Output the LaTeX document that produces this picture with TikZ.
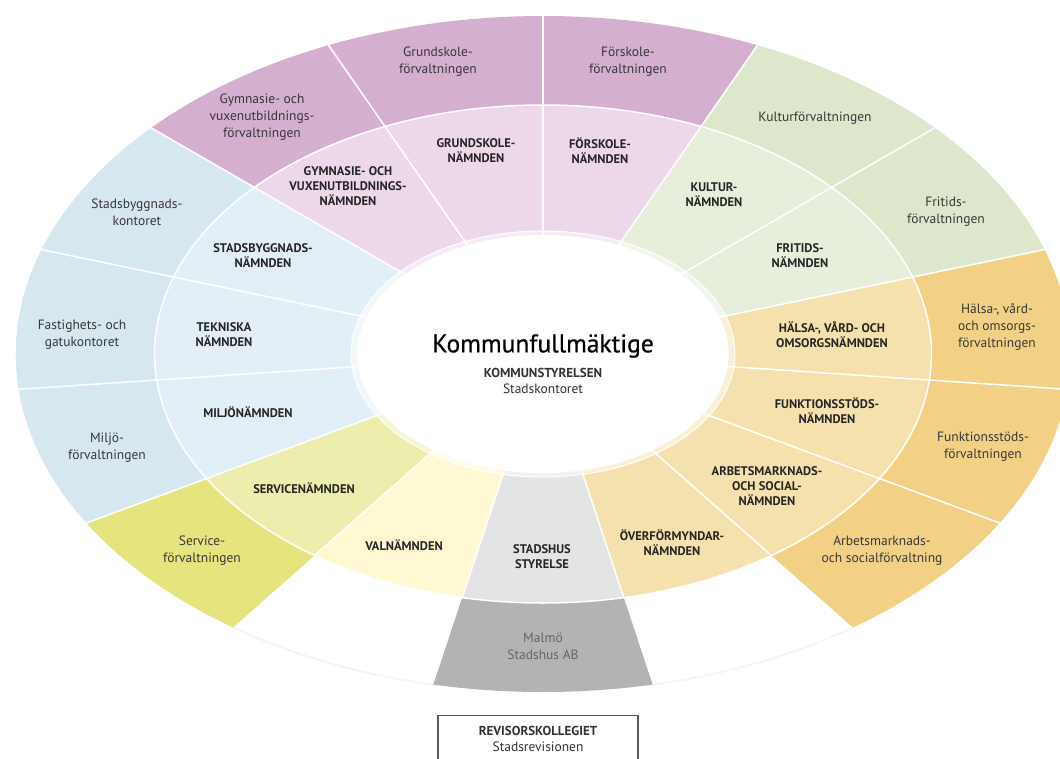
\documentclass[tikz,border=0pt]{standalone}
\usepackage{fontspec}
\setmainfont{PT Sans}
\usetikzlibrary{positioning}

\definecolor{lilaF}{HTML}{D5AFD0}
\definecolor{lilaN}{HTML}{EDD8EA}
\definecolor{gronF}{HTML}{DDE7CB}
\definecolor{gronN}{HTML}{E7EEDB}
\definecolor{orangeF}{HTML}{F2D186}
\definecolor{orangeN}{HTML}{F5E1AE}
\definecolor{blaF}{HTML}{D6E7F0}
\definecolor{blaN}{HTML}{E3EFF6}
\definecolor{gulF}{HTML}{E6E47F}
\definecolor{gulN}{HTML}{EDEDAD}
\definecolor{valN}{HTML}{FFF8D3}
\definecolor{graN}{HTML}{E4E4E4}
\definecolor{graF}{HTML}{B3B3B3}

\tikzset{
    nmd/.style={font=\bfseries\fontsize{12.5}{15}\selectfont, align=center, text=black!85}, % the nämnder in the middle ring
    forv/.style={font=\fontsize{13.5}{17}\selectfont, align=center, text=black!78}, % the förvaltningar in the outer ring
    sep/.style={white, line width=1.5pt}, % white lines between the fields
}

\begin{document}
\begin{tikzpicture}[x=1pt, y=-1pt]
\path[use as bounding box] (0,0) rectangle (1060,758);
\clip (0,0) rectangle (1060,758);

% the wheel: angles are taken in the ellipse, 15 fields of 24 degrees
\begin{scope}[shift={(543,354)}, xscale=1.56, yscale=-1]
    \draw[black!4, line width=2pt] (234:338) arc[start angle=234, end angle=258, radius=338];
    \draw[black!4, line width=2pt] (282:338) arc[start angle=282, end angle=306, radius=338];
    \foreach \a/\c in {66/lilaN, 90/lilaN, 114/lilaN, 138/blaN, 162/blaN, 186/blaN, 210/gulN, 234/valN,
                       258/graN, 282/orangeN, 306/orangeN, 330/orangeN, 354/orangeN, 18/gronN, 42/gronN}
        \fill[\c] (0,0) -- (\a:249) arc[start angle=\a, delta angle=24, radius=249] -- cycle;
    \foreach \a/\c in {66/lilaF, 90/lilaF, 114/lilaF, 138/blaF, 162/blaF, 186/blaF, 210/gulF,
                       258/graF, 306/orangeF, 330/orangeF, 354/orangeF, 18/gronF, 42/gronF}
        \fill[\c] (\a:249) -- (\a:338) arc[start angle=\a, delta angle=24, radius=338]
            -- (\a+24:249) arc[start angle=\a+24, delta angle=-24, radius=249] -- cycle;
    \foreach \a in {18,42,...,354}
        \draw[sep] (\a:110) -- (\a:249);
    \foreach \a in {330,354,18,42,66,90,114,138,162,186,210}
        \draw[sep] (\a:249) -- (\a:338);
    \draw[sep] (0,0) circle[radius=249];
    \fill[white, opacity=.5] (0,0) circle[radius=123];
    \draw[white, line width=1pt] (0,0) circle[radius=123];
    \fill[white] (0,0) circle[radius=119];
\end{scope}

% centre
\node (kf) at (543,346) {\fontsize{25.5}{30}\selectfont\addfontfeature{FakeBold=0.6}Kommunfullmäktige};
\node[below=3pt of kf, align=center, font=\fontsize{13.5}{16}\selectfont, text=black!80] (ks)
    {{\bfseries\fontsize{13}{16}\selectfont KOMMUNSTYRELSEN}\\Stadskontoret};

% middle ring
\node[nmd] (forskoleN) at (600,151) {FÖRSKOLE-\\NÄMNDEN};
\node[nmd] (grundskoleN) at (476,151) {GRUNDSKOLE-\\NÄMNDEN};
\node[nmd] (gymnasieN) at (348,186) {GYMNASIE- OCH\\VUXENUTBILDNINGS-\\NÄMNDEN};
\node[nmd] (stadsbyggN) at (263,256) {STADSBYGGNADS-\\NÄMNDEN};
\node[nmd] (tekniskaN) at (224,335) {TEKNISKA\\NÄMNDEN};
\node[nmd] (miljoN) at (248,412) {MILJÖNÄMNDEN};
\node[nmd] (serviceN) at (304,488) {SERVICENÄMNDEN};
\node[nmd] (valN) at (404,545) {VALNÄMNDEN};
\node[nmd] (stadshusN) at (542,557) {STADSHUS\\STYRELSE};
\node[nmd] (overformN) at (672,543) {ÖVERFÖRMYNDAR-\\NÄMNDEN};
\node[nmd] (arbetsN) at (767,486) {ARBETSMARKNADS-\\OCH SOCIAL-\\NÄMNDEN};
\node[nmd] (funktionN) at (827,411) {FUNKTIONSSTÖDS-\\NÄMNDEN};
\node[nmd] (halsaN) at (832,335) {HÄLSA-, VÅRD- OCH\\OMSORGSNÄMNDEN};
\node[nmd] (fritidsN) at (800,256) {FRITIDS-\\NÄMNDEN};
\node[nmd] (kulturN) at (714,195) {KULTUR-\\NÄMNDEN};

% outer ring
\node[forv] (forskoleF) at (628,62) {Förskole-\\förvaltningen};
\node[forv] (grundskoleF) at (438,62) {Grundskole-\\förvaltningen};
\node[forv] (gymnasieF) at (262,117) {Gymnasie- och\\vuxenutbildnings-\\förvaltningen};
\node[forv] (stadsbyggF) at (137,212) {Stadsbyggnads-\\kontoret};
\node[forv] (fastighetF) at (82,335) {Fastighets- och\\gatukontoret};
\node[forv] (miljoF) at (107,448) {Miljö-\\förvaltningen};
\node[forv] (serviceF) at (202,551) {Service-\\förvaltningen};
\node[forv, text=black!60] (stadshusAB) at (543,646) {Malmö\\Stadshus AB};
\node[forv] (arbetsF) at (882,551) {Arbetsmarknads-\\och socialförvaltning};
\node[forv] (funktionF) at (983,447) {Funktionsstöds-\\förvaltningen};
\node[forv] (halsaF) at (997,327) {Hälsa-, vård-\\och omsorgs-\\förvaltningen};
\node[forv] (fritidsF) at (946,212) {Fritids-\\förvaltningen};
\node[forv] (kulturF) at (815,118) {Kulturförvaltningen};

% revision, below the wheel
\node[draw=black!65, line width=1.2pt, minimum width=200pt, minimum height=46pt, anchor=north,
      align=center, font=\fontsize{13.5}{16}\selectfont, text=black!80] (revisor) at (538,715)
    {{\bfseries\fontsize{13}{16}\selectfont REVISORSKOLLEGIET}\\Stadsrevisionen};
\end{tikzpicture}
\end{document}
